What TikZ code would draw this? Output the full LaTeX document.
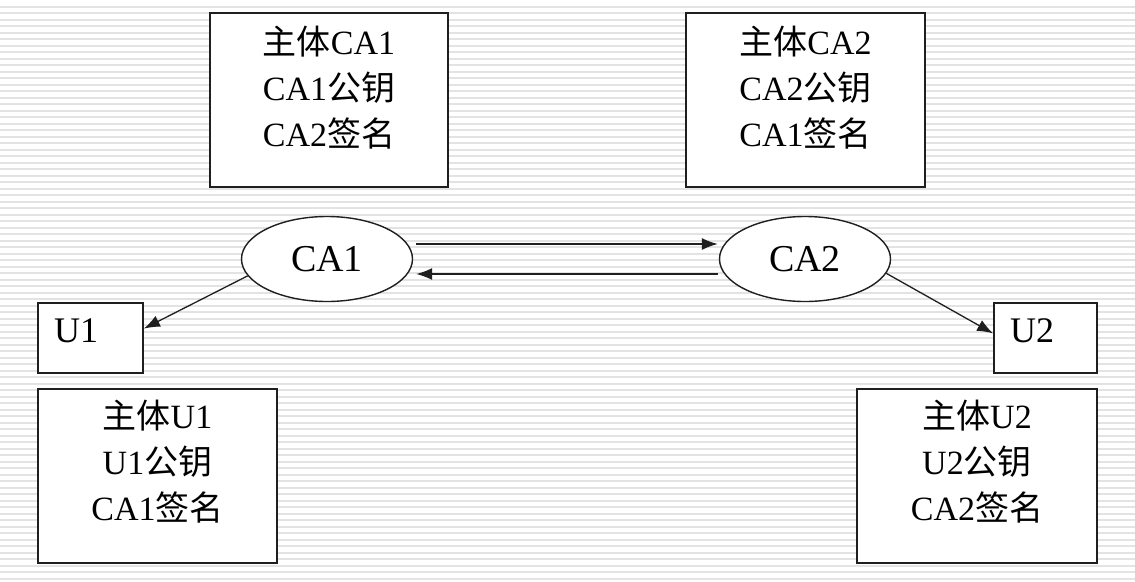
\documentclass[tikz,border=0pt]{standalone}
\usepackage{fontspec}
\setmainfont{Liberation Serif}
\newfontfamily\cjk{Noto Sans CJK SC}
\newcommand\zh[1]{{\cjk #1}}
\usetikzlibrary{shapes.geometric,arrows.meta,calc}
\begin{document}
\begin{tikzpicture}[x=1pt,y=-1pt,
  stripe/.style={fill=black!11},
  boxshape/.style={draw=black!88, line width=1.8pt, fill=white, inner sep=0pt},
  boxtext/.style={align=center, inner sep=0pt, anchor=north, font=\fontsize{34}{46}\selectfont},
  ell/.style={ellipse, draw=black!88, line width=1.4pt, fill=white, minimum width=171pt, minimum height=85pt, inner sep=0pt, font=\fontsize{38}{40}\selectfont},
  arr/.style={draw=black!88, line width=1.3pt, -{Latex[length=16pt,width=12pt]}},
  small/.style={inner sep=0pt, anchor=base west, font=\fontsize{36}{40}\selectfont}
]
\fill[white] (0,0) rectangle (1135,581);
\useasboundingbox (0,0) rectangle (1135,581);
\foreach \i in {0,...,89}{\fill[stripe] (0,{5.8+6.5*\i}) rectangle (1135,{7.8+6.5*\i});}

% top boxes
\node[boxshape, minimum width=238pt, minimum height=174pt] (tl) at (329,100) {};
\node[boxtext] (tlt) at ([yshift=-14pt]tl.north) {\zh{主体}CA1\\CA1\zh{公钥}\\CA2\zh{签名}};
\node[boxshape, minimum width=239pt, minimum height=174pt] (tr) at (805.5,100) {};
\node[boxtext] (trt) at ([yshift=-14pt]tr.north) {\zh{主体}CA2\\CA2\zh{公钥}\\CA1\zh{签名}};

% ellipses
\node[ell] (ca1) at (327,259) {CA1};
\node[ell] (ca2) at (805,259) {CA2};

% user boxes
\node[boxshape, minimum width=105pt, minimum height=70pt] (u1) at (90.5,338) {};
\node[small] (u1t) at (54,342) {U1};
\node[boxshape, minimum width=103pt, minimum height=70pt] (u2) at (1045.5,338) {};
\node[small] (u2t) at (1010,342) {U2};

\node[boxshape, minimum width=239pt, minimum height=174pt] (u1b) at (157.5,476) {};
\node[boxtext] (u1bt) at ([yshift=-12pt]u1b.north) {\zh{主体}U1\\U1\zh{公钥}\\CA1\zh{签名}};
\node[boxshape, minimum width=240pt, minimum height=174pt] (u2b) at (977,476) {};
\node[boxtext] (u2bt) at ([yshift=-12pt]u2b.north) {\zh{主体}U2\\U2\zh{公钥}\\CA2\zh{签名}};

% connectors
\draw[arr] ([shift={(3,-15)}]ca1.east) -- ([shift={(-1,-15)}]ca2.west);
\draw[arr] ([shift={(-1,15)}]ca2.west) -- ([shift={(3,15)}]ca1.east);
\draw[arr] (ca1.192) -- (u1.10);
\draw[arr] (ca2.-10) -- (u2.175);
\end{tikzpicture}
\end{document}
